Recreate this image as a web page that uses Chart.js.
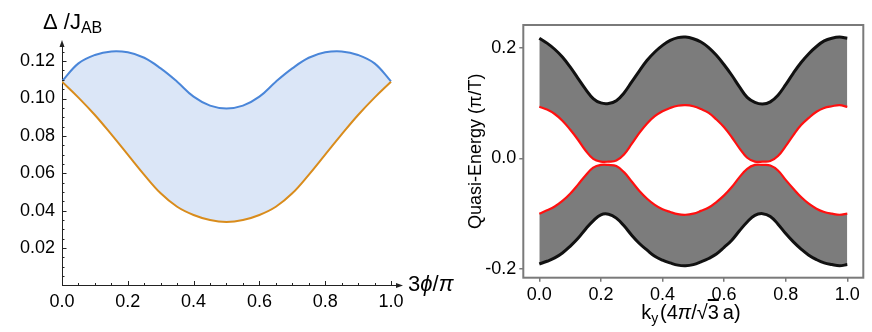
<!DOCTYPE html>
<html><head><meta charset="utf-8">
<script src="https://cdn.jsdelivr.net/npm/chart.js@4.4.0/dist/chart.umd.min.js"></script>
<style>
html,body{margin:0;padding:0;background:#fff;}
body{width:872px;height:332px;position:relative;overflow:hidden;font-family:"Liberation Sans",Arial,sans-serif;}
#c1{position:absolute;left:0;top:0;}
#c2{position:absolute;left:440px;top:0;}
.lbl{position:absolute;white-space:nowrap;color:#000;line-height:1;}
</style></head><body>
<canvas id="c1" width="440" height="332"></canvas>
<canvas id="c2" width="432" height="332"></canvas>
<div class="lbl" style="left:43px;top:11px;font-size:22px;">Δ&nbsp;/J<span style="font-size:16px;position:relative;top:4px;">AB</span></div>
<div class="lbl" style="left:408px;top:273px;font-size:22px;">3<i>ϕ</i>/<i>π</i></div>
<div class="lbl" style="left:541px;width:300px;text-align:center;top:302px;font-size:20px;">k<span style="font-size:14px;position:relative;top:4px;">y</span>&#8202;(4<i>π</i>/√<span style="text-decoration:overline;">3</span>&#8201;a)</div>
<script>
// ---------- left panel data ----------
const phi = [0,0.05,0.1,0.15,0.2,0.25,0.3,0.35,0.4,0.45,0.5,0.55,0.6,0.65,0.7,0.75,0.8,0.85,0.9,0.95,1.0];
const gapUpper = [0.1092,0.1188,0.1233,0.1252,0.1247,0.1218,0.1161,0.1090,0.1010,0.0962,0.0947,0.0962,0.1010,0.1090,0.1161,0.1218,0.1247,0.1252,0.1233,0.1188,0.1092];
const gapLower = [0.1090,0.1005,0.0912,0.0808,0.0700,0.0592,0.0493,0.0421,0.0377,0.0350,0.0340,0.0350,0.0377,0.0421,0.0493,0.0592,0.0700,0.0808,0.0912,0.1005,0.1090];
const leftXTicks = [0,0.2,0.4,0.6,0.8,1.0];
const leftXLabels = ['0.0','0.2','0.4','0.6','0.8','1.0'];
const leftYTicks = [0.02,0.04,0.06,0.08,0.10,0.12];
const leftYLabels = ['0.02','0.04','0.06','0.08','0.10','0.12'];
const leftXMinor = [0.05,0.1,0.15,0.25,0.3,0.35,0.45,0.5,0.55,0.65,0.7,0.75,0.85,0.9,0.95];
const leftYMinor = [0.005,0.01,0.015,0.025,0.03,0.035,0.045,0.05,0.055,0.065,0.07,0.075,0.085,0.09,0.095,0.105,0.11,0.115,0.125];

// ---------- right panel data ----------
const ky = [0,0.025,0.05,0.075,0.1,0.125,0.15,0.175,0.2,0.225,0.25,0.275,0.3,0.325,0.35,0.375,0.4,0.425,0.45,0.475,0.5,0.525,0.55,0.575,0.6,0.625,0.65,0.675,0.7,0.725,0.75,0.775,0.8,0.825,0.85,0.875,0.9,0.925,0.95,0.975,1.0];
const upperBandTop = [0.217,0.208,0.197,0.183,0.165,0.145,0.125,0.108,0.100,0.099,0.104,0.118,0.138,0.158,0.177,0.192,0.204,0.213,0.218,0.219,0.216,0.210,0.200,0.186,0.169,0.150,0.129,0.110,0.101,0.098,0.102,0.114,0.133,0.154,0.173,0.189,0.202,0.212,0.217,0.219,0.217];
const upperEdgeState = [0.093,0.088,0.080,0.068,0.052,0.034,0.014,-0.001,-0.006,-0.006,-0.004,0.007,0.026,0.046,0.063,0.076,0.085,0.091,0.095,0.096,0.094,0.089,0.082,0.070,0.056,0.038,0.018,0.001,-0.006,-0.006,-0.005,0.004,0.022,0.042,0.060,0.073,0.084,0.091,0.094,0.096,0.093];
const lowerEdgeState = [-0.100,-0.094,-0.087,-0.077,-0.064,-0.048,-0.031,-0.017,-0.012,-0.012,-0.014,-0.025,-0.042,-0.059,-0.073,-0.084,-0.092,-0.097,-0.101,-0.102,-0.100,-0.095,-0.089,-0.079,-0.067,-0.052,-0.034,-0.019,-0.012,-0.012,-0.013,-0.022,-0.039,-0.055,-0.070,-0.082,-0.091,-0.097,-0.100,-0.102,-0.100];
const lowerBandBottom = [-0.191,-0.186,-0.180,-0.171,-0.159,-0.145,-0.128,-0.113,-0.102,-0.101,-0.108,-0.122,-0.139,-0.154,-0.166,-0.177,-0.184,-0.189,-0.193,-0.194,-0.192,-0.187,-0.181,-0.173,-0.161,-0.148,-0.131,-0.115,-0.103,-0.100,-0.105,-0.119,-0.136,-0.151,-0.164,-0.175,-0.183,-0.189,-0.192,-0.194,-0.192];
const rightXTicks = [0,0.2,0.4,0.6,0.8,1.0];
const rightXLabels = ['0.0','0.2','0.4','0.6','0.8','1.0'];
const rightYTicks = [-0.2,0,0.2];
const rightYLabels = ['-0.2','0.0','0.2'];

const FONT = '"Liberation Sans", Arial, sans-serif';
const pts = (xs, ys) => xs.map((v, i) => ({x: v, y: ys[i]}));

// ---------- left chart ----------
const mathAxes = {
  id: 'mathAxes',
  afterDraw(chart) {
    const {ctx, chartArea: a, scales: {x, y}} = chart;
    ctx.save();
    ctx.strokeStyle = '#222'; ctx.lineWidth = 1;
    ctx.beginPath();
    leftXTicks.concat(leftXMinor).forEach((v, i) => {
      const px = Math.round(x.getPixelForValue(v)) + 0.5;
      const len = i < leftXTicks.length ? 4.5 : 2.5;
      ctx.moveTo(px, a.bottom); ctx.lineTo(px, a.bottom - len);
    });
    leftYTicks.concat(leftYMinor).forEach((v, i) => {
      const py = Math.round(y.getPixelForValue(v)) + 0.5;
      const len = i < leftYTicks.length ? 4.5 : 2.5;
      ctx.moveTo(a.left, py); ctx.lineTo(a.left + len, py);
    });
    ctx.stroke();
    ctx.fillStyle = '#222';
    ctx.beginPath();
    ctx.moveTo(a.right + 3, a.bottom); ctx.lineTo(a.right - 4, a.bottom - 2.5); ctx.lineTo(a.right - 4, a.bottom + 2.5); ctx.closePath(); ctx.fill();
    ctx.beginPath();
    ctx.moveTo(a.left, a.top - 3); ctx.lineTo(a.left - 2.5, a.top + 4); ctx.lineTo(a.left + 2.5, a.top + 4); ctx.closePath(); ctx.fill();
    ctx.restore();
  }
};

new Chart(document.getElementById('c1'), {
  type: 'line',
  data: {
    datasets: [
      {data: pts(phi, gapUpper), borderColor: '#4a86d9', borderWidth: 2, pointRadius: 0,
       tension: 0.4, fill: '+1', backgroundColor: '#dbe6f7', order: 1},
      {data: pts(phi, gapLower), borderColor: '#d98c1c', borderWidth: 2, pointRadius: 0,
       tension: 0.4, fill: false, order: 0}
    ]
  },
  options: {
    responsive: false, animation: false,
    layout: {padding: {left: 0, top: 43, right: 40, bottom: 0}},
    plugins: {legend: {display: false}, tooltip: {enabled: false}},
    scales: {
      x: {type: 'linear', min: 0, max: 1.0274,
          afterFit: s => { s.height = 46.5; },
          afterBuildTicks: s => { s.ticks = leftXTicks.map(v => ({value: v})); },
          grid: {display: false, drawTicks: false},
          border: {display: true, color: '#222', width: 1},
          ticks: {padding: 6, color: '#000', font: {family: FONT, size: 18},
                  callback: (v, i) => leftXLabels[i]}},
      y: {type: 'linear', min: 0, max: 0.1297,
          afterFit: s => { s.width = 62; },
          afterBuildTicks: s => { s.ticks = leftYTicks.map(v => ({value: v})); },
          grid: {display: false, drawTicks: false},
          border: {display: true, color: '#222', width: 1},
          ticks: {padding: 7, color: '#000', font: {family: FONT, size: 18},
                  callback: (v, i) => leftYLabels[i]}}
    }
  },
  plugins: [mathAxes]
});

// ---------- right chart ----------
const frameBox = {
  id: 'frameBox',
  afterDraw(chart) {
    const {ctx, chartArea: a} = chart;
    ctx.save();
    ctx.strokeStyle = '#7a7a7a'; ctx.lineWidth = 2;
    ctx.strokeRect(a.left, a.top, a.right - a.left, a.bottom - a.top);
    ctx.restore();
  }
};
const BAND = '#7c7c7c';
new Chart(document.getElementById('c2'), {
  type: 'line',
  data: {
    datasets: [
      {data: pts(ky, upperBandTop), borderColor: '#111', borderWidth: 3, pointRadius: 0,
       tension: 0.4, fill: '+1', backgroundColor: BAND, order: 2},
      {data: pts(ky, upperEdgeState), borderColor: '#ff1010', borderWidth: 2.2, pointRadius: 0,
       tension: 0.4, fill: false, order: 0},
      {data: pts(ky, lowerEdgeState), borderColor: '#ff1010', borderWidth: 2.2, pointRadius: 0,
       tension: 0.4, fill: '+1', backgroundColor: BAND, order: 2},
      {data: pts(ky, lowerBandBottom), borderColor: '#111', borderWidth: 3, pointRadius: 0,
       tension: 0.4, fill: false, order: 1}
    ]
  },
  options: {
    responsive: false, animation: false,
    layout: {padding: {left: 0, top: 25, right: 8.7, bottom: 0}},
    plugins: {legend: {display: false}, tooltip: {enabled: false}},
    scales: {
      x: {type: 'linear', min: -0.052, max: 1.052,
          afterFit: s => { s.height = 54.3; },
          afterBuildTicks: s => { s.ticks = rightXTicks.map(v => ({value: v})); },
          grid: {display: true, drawOnChartArea: false, drawTicks: true, tickLength: 4, color: '#7a7a7a', lineWidth: 1.5},
          border: {display: false},
          ticks: {padding: 3, color: '#000', font: {family: FONT, size: 18},
                  callback: (v, i) => rightXLabels[i]}},
      y: {type: 'linear', min: -0.2157, max: 0.2408,
          afterFit: s => { s.width = 83.3; },
          afterBuildTicks: s => { s.ticks = rightYTicks.map(v => ({value: v})); },
          grid: {display: true, drawOnChartArea: false, drawTicks: true, tickLength: 4, color: '#7a7a7a', lineWidth: 1.5},
          border: {display: false},
          title: {display: true, text: 'Quasi-Energy (π/T)', color: '#000',
                  font: {family: FONT, size: 18}, padding: {top: 25, bottom: 0}},
          ticks: {padding: 3, color: '#000', font: {family: FONT, size: 18},
                  callback: (v, i) => rightYLabels[i]}}
    }
  },
  plugins: [frameBox]
});
</script>
</body></html>
